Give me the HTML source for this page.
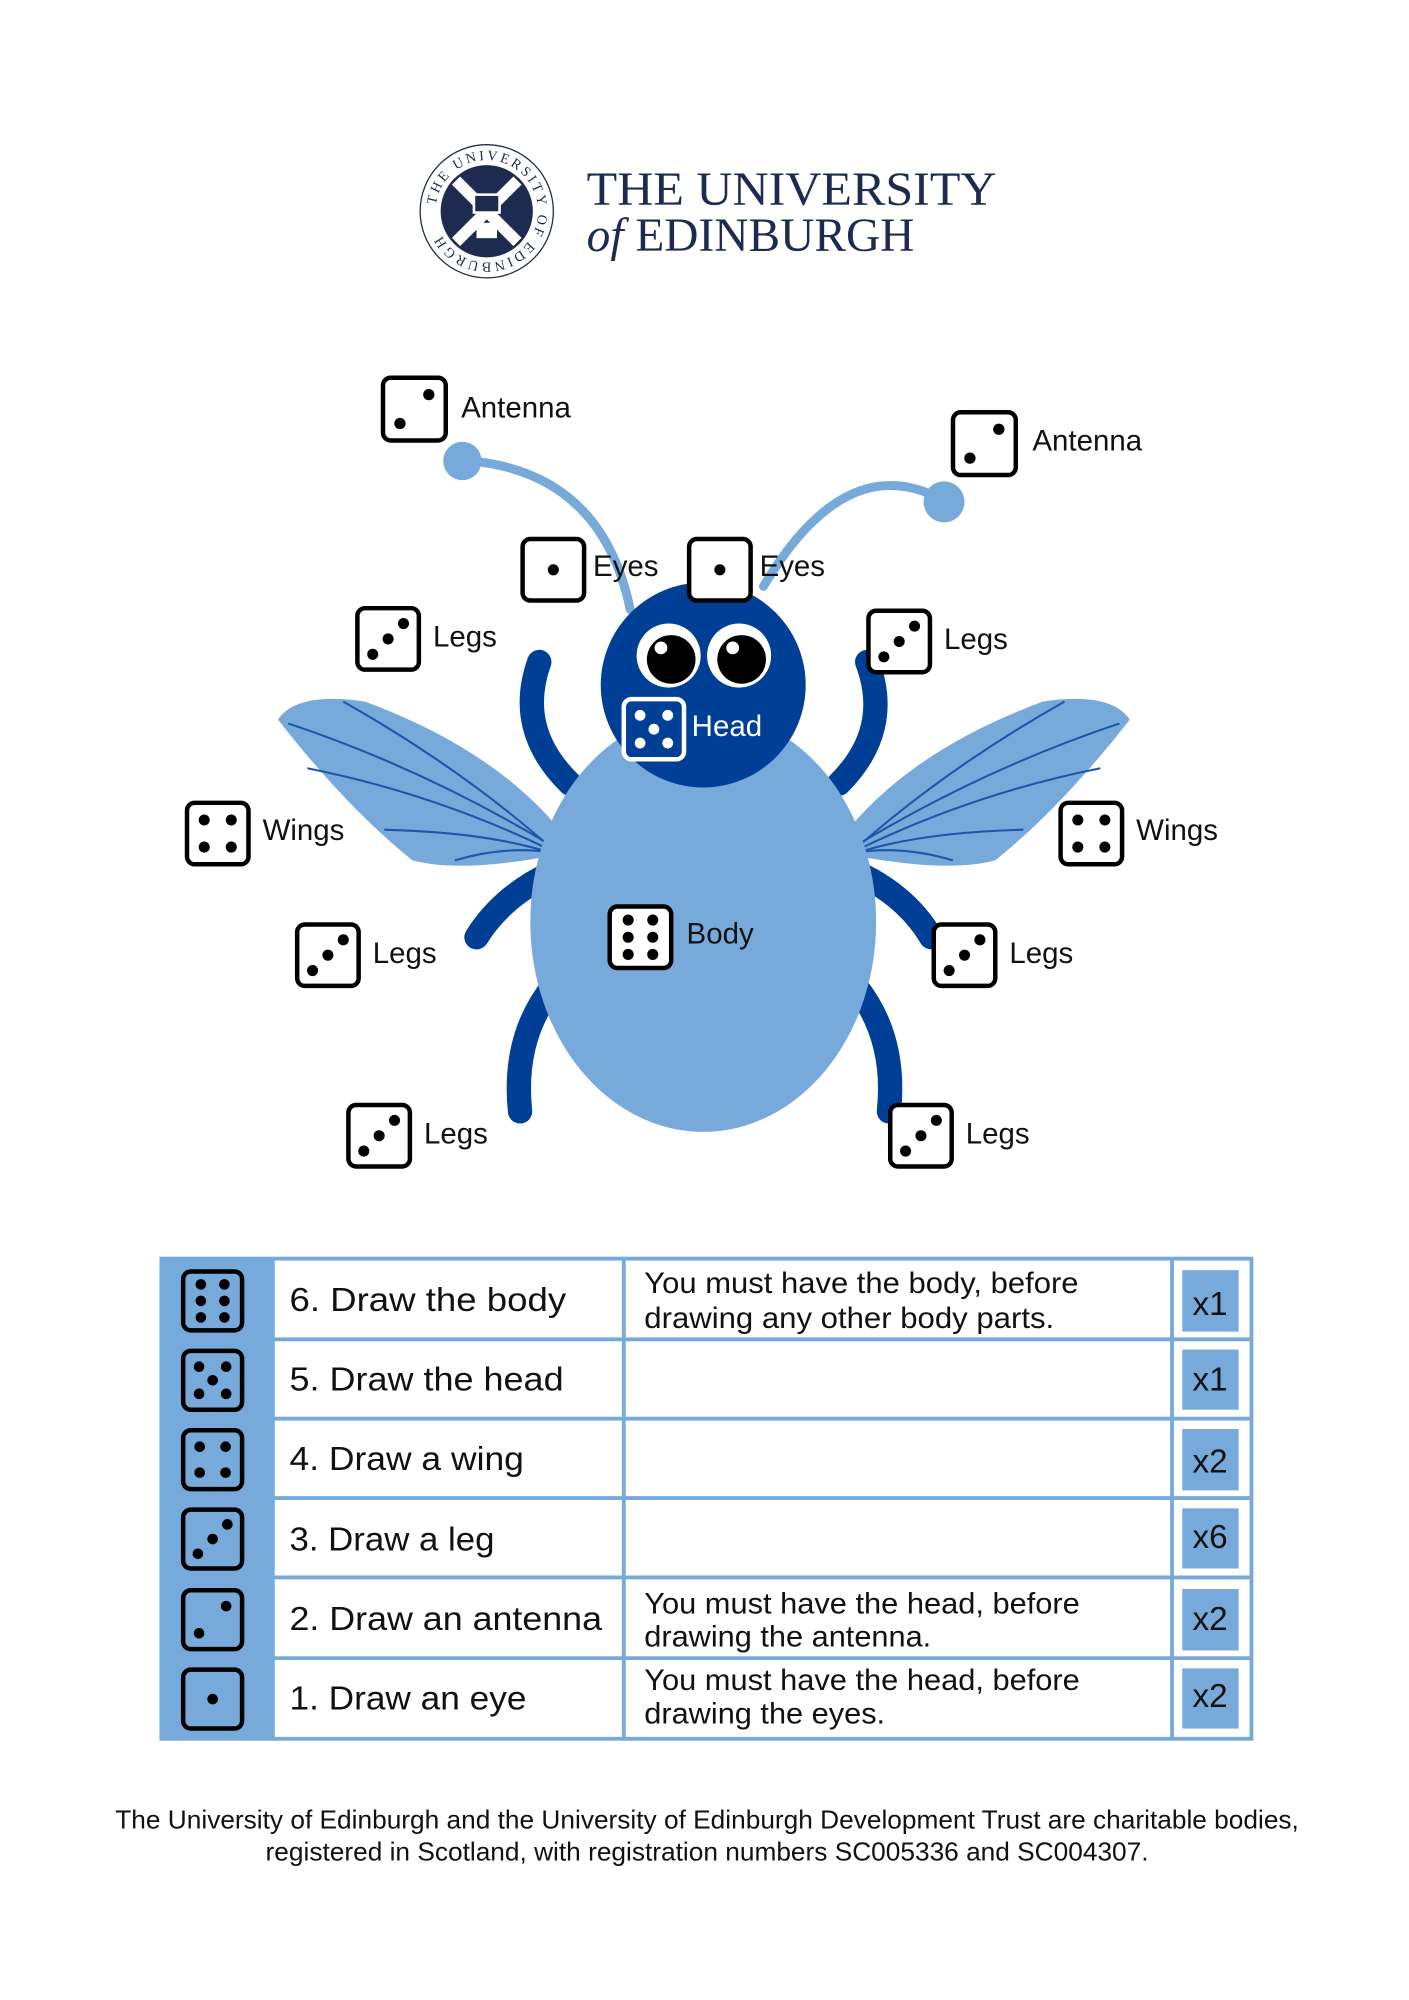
<!DOCTYPE html>
<html><head><meta charset="utf-8"><style>
html,body{margin:0;padding:0;background:#fff}
svg{display:block}
</style></head><body>
<svg id="s" width="1409" height="2000" viewBox="0 0 1100 1562" preserveAspectRatio="none" xmlns="http://www.w3.org/2000/svg" font-family="Liberation Sans, sans-serif">
<defs><path id="ring" d="M380,165 m-40,0 a40,40 0 1,1 80,0 a40,40 0 1,1 -80,0"/></defs>
<!-- logo -->
<circle cx="380" cy="165" r="52" fill="none" stroke="#1c2b4f" stroke-width="1"/>
<text font-family="Liberation Serif, serif" font-size="11" fill="#1c2b4f" letter-spacing="2"><textPath href="#ring" startOffset="2%">THE UNIVERSITY OF EDINBURGH</textPath></text>
<circle cx="380" cy="165" r="36" fill="#1c2b4f"/>
<path d="M356,141 L404,189 M404,141 L356,189" stroke="#fff" stroke-width="9"/>
<rect x="370" y="152" width="20" height="14" fill="#1c2b4f" stroke="#fff" stroke-width="2"/>
<rect x="372" y="174" width="16" height="12" fill="#fff"/>
<text x="458" y="160" font-family="Liberation Serif, serif" font-size="37" fill="#1c2b4f" textLength="320" lengthAdjust="spacingAndGlyphs">THE UNIVERSITY</text>
<text x="458" y="196" font-family="Liberation Serif, serif" font-size="37" fill="#1c2b4f"><tspan font-style="italic">of</tspan> EDINBURGH</text>

<!-- wings -->
<g id="wing">
<path d="M217,562 Q232,540 285,548 Q385,585 437,648 L432,668 Q360,682 322,672 Q270,630 217,562 Z" fill="#77aadb"/>
<g stroke="#1f55a8" stroke-width="1.6" fill="none">
<path d="M225,565 Q330,600 430,660"/>
<path d="M268,548 Q360,600 430,662"/>
<path d="M240,600 Q340,620 430,664"/>
<path d="M300,648 Q380,650 430,666"/>
<path d="M355,672 Q395,660 432,666"/>
</g></g>
<use href="#wing" transform="translate(1099,0) scale(-1,1)"/>

<!-- antennae -->
<g stroke="#77aadb" stroke-width="7" fill="none" stroke-linecap="round">
<path d="M492,476 Q470,370 368,360"/>
<path d="M596,458 Q660,350 735,390"/>
</g>
<circle cx="361" cy="360" r="15" fill="#77aadb"/>
<circle cx="737" cy="392" r="16" fill="#77aadb"/>

<!-- legs -->
<g stroke="#003f96" stroke-width="19" fill="none" stroke-linecap="round">
<path d="M421,517 Q402,570 445,612"/>
<path d="M677,517 Q697,570 655,612"/>
<path d="M372,732 Q392,700 430,682"/>
<path d="M727,732 Q708,700 670,682"/>
<path d="M406,868 Q400,810 432,770"/>
<path d="M694,868 Q700,810 668,770"/>
</g>
<ellipse cx="549" cy="720" rx="135" ry="164" fill="#77aadb"/>
<circle cx="549" cy="535" r="80" fill="#003f96"/>
<!-- eyes -->
<circle cx="522" cy="512" r="25" fill="#fff"/><circle cx="524" cy="515" r="19" fill="#000"/><circle cx="516" cy="506" r="5" fill="#fff"/>
<circle cx="577" cy="512" r="25" fill="#fff"/><circle cx="579" cy="515" r="19" fill="#000"/><circle cx="572" cy="506" r="5" fill="#fff"/>

<g id="dice"></g>
<g font-size="23" fill="#111">
<text x="360" y="326">Antenna</text>
<text x="806" y="352">Antenna</text>
<text x="463" y="450">Eyes</text>
<text x="593" y="450">Eyes</text>
<text x="338" y="505">Legs</text>
<text x="737" y="507">Legs</text>
<text x="540" y="575" fill="#fff">Head</text>
<text x="205" y="656">Wings</text>
<text x="887" y="656">Wings</text>
<text x="291" y="752">Legs</text>
<text x="536" y="737">Body</text>
<text x="788" y="752">Legs</text>
<text x="331" y="893">Legs</text>
<text x="754" y="893">Legs</text>
</g>

<!-- table -->
<rect x="126" y="983" width="87" height="375" fill="#77aadb"/>
<g stroke="#77aadb" stroke-width="3" fill="none">
<rect x="126" y="983" width="851" height="375"/>
<path d="M213,983V1358 M487,983V1358 M915,983V1358"/>
<path d="M213,1046H977 M213,1108H977 M213,1170H977 M213,1232H977 M213,1295H977"/>
</g>
<g fill="#77aadb">
<rect x="923" y="992" width="44" height="48"/>
<rect x="923" y="1054" width="44" height="47"/>
<rect x="923" y="1116" width="44" height="48"/>
<rect x="923" y="1178" width="44" height="47"/>
<rect x="923" y="1241" width="44" height="48"/>
<rect x="923" y="1303" width="44" height="47"/>
</g>
<g font-size="26" fill="#111" lengthAdjust="spacingAndGlyphs">
<text x="226" y="1024" textLength="216" lengthAdjust="spacingAndGlyphs">6. Draw the body</text>
<text x="226" y="1086" textLength="214" lengthAdjust="spacingAndGlyphs">5. Draw the head</text>
<text x="226" y="1148" textLength="183" lengthAdjust="spacingAndGlyphs">4. Draw a wing</text>
<text x="226" y="1211" textLength="160" lengthAdjust="spacingAndGlyphs">3. Draw a leg</text>
<text x="226" y="1273" textLength="244" lengthAdjust="spacingAndGlyphs">2. Draw an antenna</text>
<text x="226" y="1335" textLength="185" lengthAdjust="spacingAndGlyphs">1. Draw an eye</text>
<text x="931" y="1027">x1</text><text x="931" y="1086">x1</text><text x="931" y="1150">x2</text>
<text x="931" y="1209">x6</text><text x="931" y="1273">x2</text><text x="931" y="1333">x2</text>
</g>
<g font-size="23" fill="#111">
<text x="503" y="1010" textLength="339" lengthAdjust="spacingAndGlyphs">You must have the body, before</text>
<text x="503" y="1037" textLength="320" lengthAdjust="spacingAndGlyphs">drawing any other body parts.</text>
<text x="503" y="1260" textLength="340" lengthAdjust="spacingAndGlyphs">You must have the head, before</text>
<text x="503" y="1286" textLength="224" lengthAdjust="spacingAndGlyphs">drawing the antenna.</text>
<text x="503" y="1320" textLength="340" lengthAdjust="spacingAndGlyphs">You must have the head, before</text>
<text x="503" y="1346" textLength="188" lengthAdjust="spacingAndGlyphs">drawing the eyes.</text>
</g>
<g id="tdice"></g>
<g font-size="20.5" fill="#111" text-anchor="middle">
<text x="552" y="1428">The University of Edinburgh and the University of Edinburgh Development Trust are charitable bodies,</text>
<text x="552" y="1453">registered in Scotland, with registration numbers SC005336 and SC004307.</text>
</g>
</svg>
<script>
var NS='http://www.w3.org/2000/svg';
var P={1:[[.5,.5]],2:[[.27,.73],[.73,.27]],3:[[.25,.75],[.5,.5],[.75,.25]],4:[[.28,.28],[.72,.28],[.28,.72],[.72,.72]],5:[[.27,.27],[.73,.27],[.5,.5],[.27,.73],[.73,.73]],6:[[.3,.22],[.7,.22],[.3,.5],[.7,.5],[.3,.78],[.7,.78]]};
function die(g,x,y,s,n,c,fill){
 var r=document.createElementNS(NS,'rect');
 r.setAttribute('x',x);r.setAttribute('y',y);r.setAttribute('width',s);r.setAttribute('height',s);
 r.setAttribute('rx',6);r.setAttribute('fill',fill||'#fff');r.setAttribute('stroke',c);r.setAttribute('stroke-width',3.5);g.appendChild(r);
 P[n].forEach(function(p){var e=document.createElementNS(NS,'circle');e.setAttribute('cx',x+p[0]*s);e.setAttribute('cy',y+p[1]*s);e.setAttribute('r',s*0.09);e.setAttribute('fill',c);g.appendChild(e);});
}
var g=document.getElementById('dice');
die(g,299,295,49,2,'#000');die(g,744,322,49,2,'#000');
die(g,408,421,48,1,'#000');die(g,538,421,48,1,'#000');
die(g,279,475,48,3,'#000');die(g,678,477,48,3,'#000');
die(g,487,546,47,5,'#fff','#003f96');
die(g,146,627,48,4,'#000');die(g,828,627,48,4,'#000');
die(g,232,722,48,3,'#000');die(g,476,708,48,6,'#000');die(g,729,722,48,3,'#000');
die(g,272,863,48,3,'#000');die(g,695,863,48,3,'#000');
var t=document.getElementById('tdice');
var ys=[993,1055,1117,1179,1242,1304],ns=[6,5,4,3,2,1];
for(var i=0;i<6;i++)die(t,143,ys[i],46,ns[i],'#000','#77aadb');
</script>
</body></html>
